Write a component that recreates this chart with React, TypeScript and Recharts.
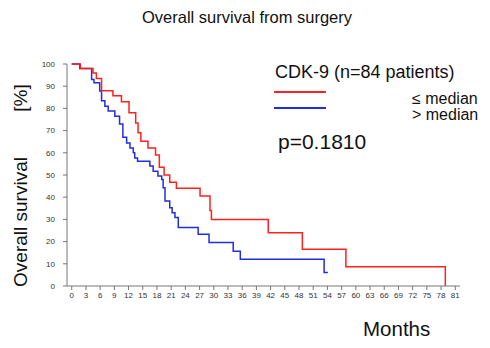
import { LineChart, Line, XAxis, YAxis } from 'recharts';

// Kaplan-Meier steps (months, % surviving)
const redMonths = [0, 1.8, 4.5, 5.2, 6.3, 8.7, 10.5, 12.1, 13.5, 14.0, 14.6, 16.1, 17.7, 18.5, 19.5, 20.7, 22.1, 27.1, 29.2, 29.5, 41.5, 48.7, 57.9, 78.9];
const redSurvival = [100, 98, 96, 93.5, 88, 85.7, 83, 78, 73.4, 69, 65.2, 62.2, 59, 53.5, 50, 46.7, 44, 40.5, 34, 30, 24, 16.6, 8.7, 0];

const blueMonths = [0, 1.7, 4.2, 4.7, 5.9, 6.3, 7.0, 7.7, 9.1, 10.1, 10.8, 11.6, 12.3, 13.0, 13.3, 13.9, 16.5, 17.2, 18.2, 19.0, 19.3, 19.7, 20.7, 21.2, 21.8, 22.5, 26.7, 29.0, 34.1, 35.6, 53.3, 54.1];
const blueSurvival = [100, 98, 93, 91.5, 87.8, 83.5, 81, 78.8, 76.5, 73, 67, 64.4, 62.2, 60, 57.7, 56.2, 54, 51.7, 49.5, 48, 44.3, 38.3, 35.3, 33, 30.8, 26.3, 23.3, 19.6, 15.7, 12.1, 6.1, 6.1];

const monthTicks = [0, 3, 6, 9, 12, 15, 18, 21, 24, 27, 30, 33, 36, 39, 42, 45, 48, 51, 54, 57, 60, 63, 66, 69, 72, 75, 78, 81];
const percentTicks = [0, 10, 20, 30, 40, 50, 60, 70, 80, 90, 100];

const title = 'Overall survival from surgery';
const groupTitle = 'CDK-9 (n=84 patients)';
const seriesNames = ['≤ median', '> median'];
const pValue = 'p=0.1810';

const redData = redMonths.map((t, i) => ({ t, s: redSurvival[i] }));
const blueData = blueMonths.map((t, i) => ({ t, s: blueSurvival[i] }));

const font = 'Arial, "Liberation Sans", sans-serif';
const tickStyle = { fontSize: 8, fill: '#333', fontFamily: font };

const rotated = (cy: number, size: number) => ({
  position: 'absolute' as const,
  left: 20,
  top: cy,
  fontSize: size,
  whiteSpace: 'pre' as const,
  lineHeight: 1,
  transform: 'translate(-50%, -50%) rotate(-90deg)',
});

export default function App() {
  return (
    <div style={{ position: 'relative', width: 490, height: 348, margin: -8, background: '#fff', fontFamily: font, color: '#111' }}>
      <LineChart width={490} height={348} margin={{ top: 64, right: 30, bottom: 42, left: 37 }}>
        <XAxis
          type="number"
          dataKey="t"
          domain={[-1, 82]}
          ticks={monthTicks}
          interval={0}
          height={20}
          tickSize={4}
          tick={tickStyle}
          stroke="#777"
          allowDataOverflow
        />
        <YAxis
          type="number"
          domain={[0, 100]}
          ticks={percentTicks}
          interval={0}
          width={30}
          tickSize={4}
          tickMargin={8}
          tick={tickStyle}
          stroke="#777"
        />
        <Line data={blueData} dataKey="s" type="stepAfter" stroke="#1f2fe0" strokeWidth={1.5} dot={false} isAnimationActive={false} />
        <Line data={redData} dataKey="s" type="stepAfter" stroke="#ff2020" strokeWidth={1.5} dot={false} isAnimationActive={false} />
      </LineChart>

      <div style={{ position: 'absolute', left: 0, width: 494, top: 8, textAlign: 'center', fontSize: 16.5 }}>{title}</div>

      <div style={{ position: 'absolute', left: 275, top: 62, fontSize: 18 }}>{groupTitle}</div>
      <div style={{ position: 'absolute', left: 274, top: 91, width: 52, borderTop: '2px solid #ff2020' }} />
      <div style={{ position: 'absolute', left: 274, top: 107, width: 52, borderTop: '2px solid #1f2fe0' }} />
      <div style={{ position: 'absolute', left: 412, top: 90, fontSize: 16 }}>{seriesNames[0]}</div>
      <div style={{ position: 'absolute', left: 412, top: 106, fontSize: 16 }}>{seriesNames[1]}</div>
      <div style={{ position: 'absolute', left: 278, top: 130, fontSize: 21 }}>{pValue}</div>

      <div style={{ position: 'absolute', left: 363, top: 317, fontSize: 20.5 }}>Months</div>
      <div style={rotated(222, 19)}>Overall survival</div>
      <div style={rotated(98, 19)}>[%]</div>
    </div>
  );
}
